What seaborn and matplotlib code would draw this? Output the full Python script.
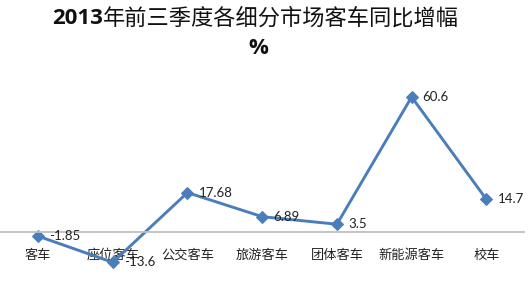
import matplotlib
matplotlib.use("Agg")
import matplotlib.pyplot as plt
import seaborn as sns
import pandas as pd

categories = ["客车", "座位客车", "公交客车", "旅游客车", "团体客车", "新能源客车", "校车"]
values = [-1.85, -13.6, 17.68, 6.89, 3.5, 60.6, 14.7]
value_labels = ["-1.85", "-13.6", "17.68", "6.89", "3.5", "60.6", "14.7"]
title_num = "2013"
title_rest = "年前三季度各细分市场客车同比增幅"
subtitle = "%"

sns.set_theme(style="white")
plt.rcParams['font.family'] = ['Noto Sans CJK SC', 'DejaVu Sans']

df = pd.DataFrame({"cat": categories, "val": values})

W, H = 529, 288
fig = plt.figure(figsize=(W / 100, H / 100), dpi=100)
ax = fig.add_axes([0.7 / W, 0.0396, 523 / W, 0.736 - 0.0396])

color = "#4A7EBB"
sns.lineplot(data=df, x="cat", y="val", ax=ax, sort=False, color=color,
             linewidth=2.1, marker="D", markersize=6.5, markeredgecolor=color,
             markerfacecolor=color)

ax.set_xlim(-0.5, len(categories) - 0.5)
ax.set_ylim(-20, 70)
for s in ["left", "right", "top"]:
    ax.spines[s].set_visible(False)
ax.spines["bottom"].set_position(("data", 0))
ax.spines["bottom"].set_color("#BFBFBF")
ax.spines["bottom"].set_linewidth(1.3)
ax.set_yticks([])
ax.set_xlabel("")
ax.set_ylabel("")
ax.tick_params(axis="x", length=0, pad=12, labelsize=9.5, colors="#222222")

for i, (v, lab) in enumerate(zip(values, value_labels)):
    ax.annotate(lab, xy=(i, v), xytext=(8, 0), textcoords="offset points",
                ha="left", va="center", fontsize=9.5, color="#222222",
                family=["Lato", "DejaVu Sans"])

t1 = fig.text(52 / W, 1 - 18 / H, title_num, ha="left", va="center",
              fontsize=16, fontweight="bold", color="#111111",
              family=["Open Sans", "DejaVu Sans"])
fig.canvas.draw()
ax.annotate(title_rest, xy=(1, 0.5), xycoords=t1, ha="left", va="center",
            fontsize=16, color="#111111", annotation_clip=False)
fig.text(258 / W, 1 - 48 / H, subtitle, ha="center", va="center",
         fontsize=16, fontweight="bold", color="#111111",
         family=["Open Sans", "DejaVu Sans"])

fig.savefig("out.png", dpi=100, facecolor="white")
